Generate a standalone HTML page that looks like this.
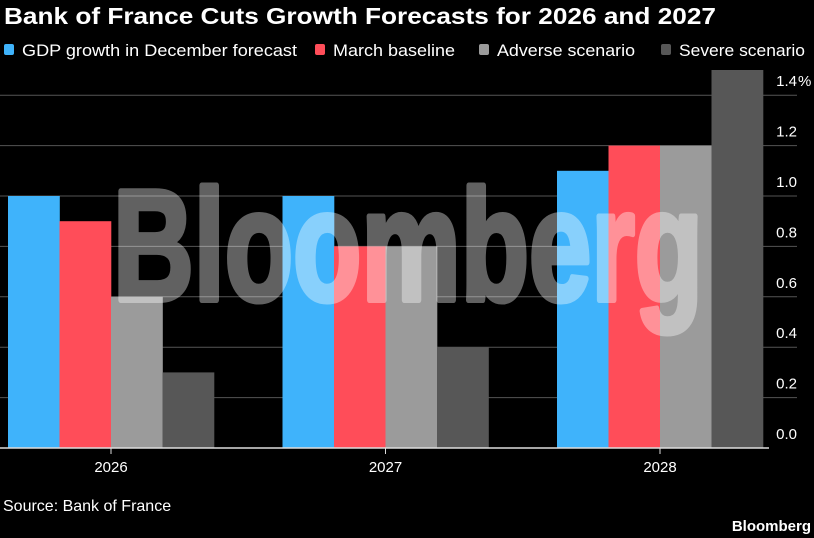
<!DOCTYPE html>
<html><head><meta charset="utf-8"><style>
html,body{margin:0;padding:0;background:#000;}
svg{display:block;font-family:"Liberation Sans",sans-serif;}
</style></head><body>
<svg id="chart" width="814" height="538" viewBox="0 0 814 538">
<rect width="814" height="538" fill="#000"/>
<text x="4" y="24" fill="#fff" font-size="23" font-weight="bold" textLength="712" lengthAdjust="spacingAndGlyphs">Bank of France Cuts Growth Forecasts for 2026 and 2027</text>
<g id="legend"></g>
<g id="grid"></g>
<g id="bars"></g>
<g id="xaxis"></g>
<g opacity="0.38">
<text x="408" y="300" fill="#fff" stroke="#fff" stroke-width="6" stroke-linejoin="round" font-size="158" font-weight="bold" text-anchor="middle" textLength="590" lengthAdjust="spacingAndGlyphs">Bloomberg</text>
</g>
<text x="3" y="511" fill="#fff" font-size="16">Source: Bank of France</text>
<text x="811" y="531" fill="#fff" font-size="15" font-weight="bold" text-anchor="end">Bloomberg</text>
</svg>
<script>
const categories=["2026","2027","2028"];
const seriesNames=["GDP growth in December forecast","March baseline","Adverse scenario","Severe scenario"];
const december=[1.0,1.0,1.1];
const march=[0.9,0.8,1.2];
const adverse=[0.6,0.8,1.2];
const severe=[0.3,0.4,1.5];
const yTicks=[0,0.2,0.4,0.6,0.8,1.0,1.2,1.4];
const yTickLabels=["0.0","0.2","0.4","0.6","0.8","1.0","1.2","1.4"];
const colors=["#3fb3fb","#ff4d59","#9b9b9b","#575757"];
const NS="http://www.w3.org/2000/svg";
function mk(t,a,p){const e=document.createElementNS(NS,t);for(const k in a)e.setAttribute(k,a[k]);p.appendChild(e);return e;}
const y0=448,pxPer=252,y=v=>y0-v*pxPer;
const x0=8,groupW=274.5,barW=51.5;
const xGroup=i=>x0+i*groupW;
const grid=document.getElementById('grid');
yTicks.forEach((t,i)=>{
 if(i>0){const l=mk('line',{x1:0,x2:797,y1:y(t),y2:y(t),stroke:'#555','stroke-width':1},grid);
 
 }
 const tx=mk('text',{x:797,y:y(t)-9,fill:'#fff','font-size':15,'text-anchor':'end'},grid);
 tx.textContent=yTickLabels[i];
 
 
 if(i===yTicks.length-1){
  const pc=mk('text',{x:798,y:y(t)-9,fill:'#fff','font-size':15},grid);
  pc.textContent='%';
  
  
 }
});
const bars=document.getElementById('bars');
const all=[december,march,adverse,severe];
all.forEach((s,si)=>s.forEach((v,ci)=>{
 const r=mk('rect',{x:xGroup(ci)+si*barW,y:y(v),width:barW+0.3,height:y0-y(v),fill:colors[si]},bars);
 
 
}));
const xa=document.getElementById('xaxis');
const al=mk('line',{x1:0,x2:769,y1:y0,y2:y0,stroke:'#ddd','stroke-width':1.5},xa);


categories.forEach((c,i)=>{
 const cx=xGroup(i)+2*barW;
 const tk=mk('line',{x1:cx,x2:cx,y1:y0,y2:y0+6,stroke:'#ddd'},xa);
 
 
 const t=mk('text',{x:cx,y:y0+24,fill:'#fff','font-size':15,'text-anchor':'middle'},xa);
 t.textContent=c;
 
 
});
const lg=document.getElementById('legend');
const lx=[4,315,479,661];
const lw=[275,122,138,126];
seriesNames.forEach((n,i)=>{
 const r=mk('rect',{x:lx[i],y:44,width:10,height:11,rx:2,fill:colors[i]},lg);
 
 
 const t=mk('text',{x:lx[i]+18,y:56,fill:'#fff','font-size':17,textLength:lw[i],lengthAdjust:'spacingAndGlyphs'},lg);
 t.textContent=n;
 
 
});
</script>
</body></html>
